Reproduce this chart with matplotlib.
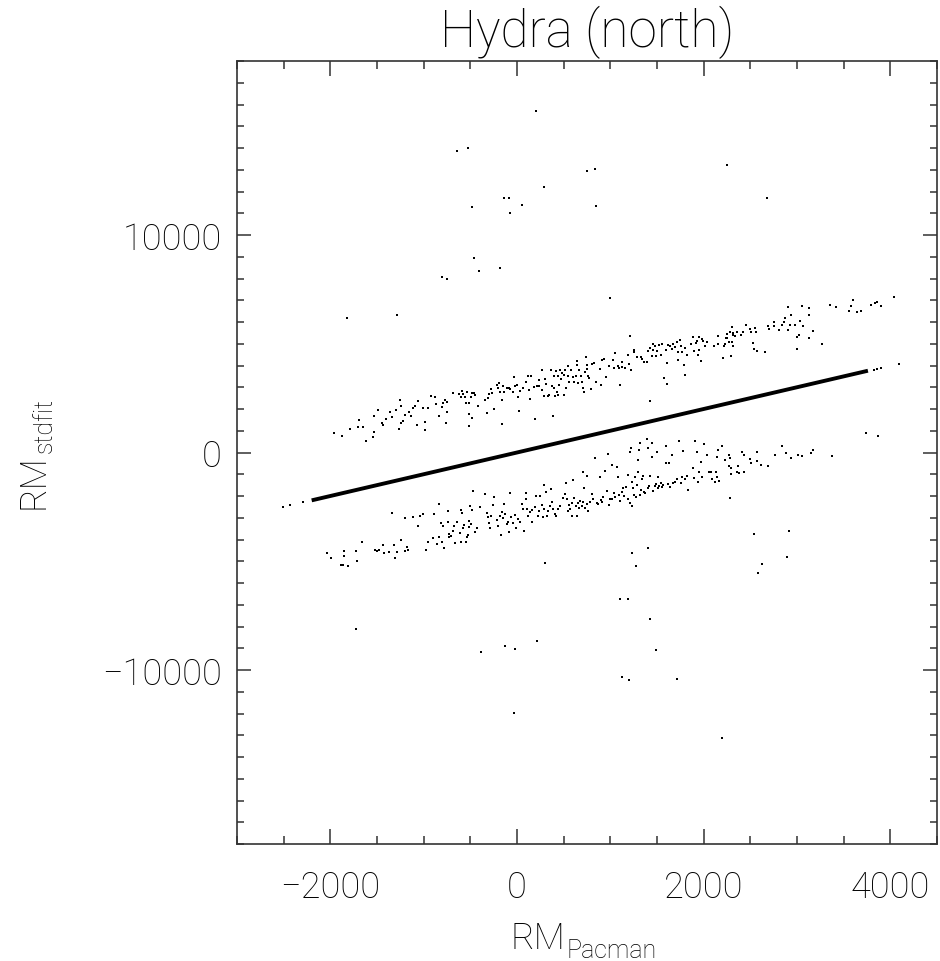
import matplotlib
matplotlib.use("Agg")
import matplotlib.pyplot as plt
from matplotlib.ticker import MultipleLocator

plt.rcParams["font.family"] = ["Roboto", "DejaVu Sans"]
plt.rcParams["font.weight"] = "light"
plt.rcParams["axes.titleweight"] = "light"
plt.rcParams["axes.labelweight"] = "light"

# RM_Pacman vs RM_stdfit
# the dense run of sources with identical RM (drawn as a thick line)
line_x = [-2200, 3760]
line_y = [-2200, 3760]

# isolated points near the ends of that run
line_pts = [(-2503, -2503), (-2432, -2434), (-2297, -2297),
            (3828, 3807), (3853, 3838), (3903, 3884), (4089, 4068)]

# upper band
upper = [
    (-1961, 879), (-1871, 756), (-1786, 1063), (-1704, 1186), (-1693, 1477),
    (-1650, 1155), (-1618, 526), (-1539, 695), (-1529, 925), (-1529, 1661),
    (-1486, 1937), (-1443, 1354), (-1439, 1278), (-1400, 1538), (-1357, 1845),
    (-1343, 1646), (-1300, 1937), (-1268, 1078), (-1254, 2428), (-1246, 1354),
    (-1239, 2136), (-1218, 1462), (-1204, 1722), (-1154, 1860), (-1136, 1661),
    (-1118, 2044), (-1093, 2121), (-1068, 1278), (-1057, 2366), (-1007, 2029),
    (-986, 1385), (-982, 1032), (-950, 2044), (-918, 2581), (-875, 2535),
    (-871, 2244), (-832, 1692), (-800, 2075), (-797, 2259), (-768, 2397),
    (-761, 1339), (-746, 2335), (-746, 1845), (-689, 2734), (-622, 2703),
    (-600, 2565), (-586, 2811), (-582, 2703), (-554, 2550), (-543, 2274),
    (-536, 2780), (-518, 1753), (-518, 1201), (-511, 2259), (-493, 2550),
    (-482, 1584), (-479, 2719), (-464, 2734), (-454, 2642), (-418, 2152),
    (-343, 2412), (-325, 1814), (-314, 2520), (-300, 2673), (-275, 2918),
    (-264, 2734), (-250, 2014), (-211, 3087), (-204, 2979), (-193, 3194),
    (-182, 2795), (-161, 2397), (-161, 1293), (-150, 3071), (-139, 2795),
    (-111, 2949), (-86, 2979), (-72, 2918), (-36, 3454), (-43, 2765),
    (-22, 3071), (3, 3117), (14, 2565), (25, 1891), (35, 2841),
    (67, 2964), (92, 3255), (121, 3500), (128, 2872), (142, 2458),
    (150, 3500), (178, 3025), (189, 1538), (210, 3071), (239, 3347),
    (239, 3071), (264, 3792), (271, 2887), (289, 2611), (303, 3378),
    (314, 3148), (328, 2581), (346, 2642), (364, 3807), (371, 3040),
    (389, 1661), (392, 3500), (400, 2949), (410, 2581), (417, 3746),
    (428, 2765), (435, 3500), (442, 2642), (450, 3102), (460, 3792),
    (471, 3378), (485, 3654), (499, 3577), (507, 2642), (514, 3807),
    (525, 2979), (542, 3500), (549, 3991), (560, 3225), (578, 3792),
    (596, 3454), (614, 3255), (628, 3500), (639, 4221), (646, 4022),
    (657, 3194), (667, 3777), (682, 3500), (700, 3225), (710, 2964),
    (717, 2765), (728, 3715), (739, 4405), (746, 4022), (753, 3838),
    (764, 3500), (771, 3408), (789, 2918), (807, 4068), (828, 4114),
    (842, 3255), (889, 3838), (896, 3117), (914, 4267), (935, 4298),
    (949, 3454), (985, 3960), (1032, 4267), (1042, 3884), (1049, 4574),
    (1078, 3991), (1096, 3899), (1103, 3117), (1121, 4144), (1128, 3945),
    (1157, 3884), (1185, 4497), (1199, 4068), (1214, 5340), (1217, 3792),
    (1249, 4727), (1256, 4635), (1282, 4374), (1328, 4374), (1342, 4298),
    (1364, 4144), (1389, 4175), (1399, 4650), (1428, 4804), (1428, 2351),
    (1442, 4451), (1453, 4988), (1460, 4712), (1478, 4880), (1485, 4451),
    (1503, 4681), (1521, 4942), (1539, 4497), (1557, 4988), (1578, 3408),
    (1592, 4712), (1603, 3133), (1610, 4114), (1621, 4957), (1639, 4880),
    (1657, 4758), (1671, 4988), (1692, 4834), (1717, 5064), (1721, 4635),
    (1728, 4267), (1746, 5187), (1757, 4880), (1771, 4635), (1792, 4037),
    (1799, 4788), (1799, 3562), (1817, 4482), (1860, 4988), (1889, 5294),
    (1896, 4681), (1914, 5018), (1924, 5141), (1935, 4482), (1949, 5294),
    (1953, 4727), (1971, 4221), (1978, 5217), (1996, 5141), (2014, 4911),
    (2035, 5064), (2107, 4911), (2149, 5371), (2157, 4988),
    (2204, 4344), (2221, 4911), (2229, 4988), (2236, 5248), (2254, 5248),
    (2254, 5447), (2275, 5095), (2282, 5555), (2293, 4420), (2300, 5095),
    (2307, 5754), (2311, 5493), (2318, 4880), (2318, 5401), (2332, 5340),
    (2354, 5555), (2396, 5401), (2425, 5555), (2454, 5861), (2496, 5677),
    (2504, 5555), (2532, 5034), (2539, 4758), (2550, 5708), (2557, 5555),
    (2575, 4681), (2657, 4604), (2693, 5800), (2700, 5677), (2754, 5984),
    (2757, 5800), (2811, 5647), (2836, 5861), (2861, 5984), (2871, 6168),
    (2903, 5647), (2907, 6704), (2925, 5861), (2932, 6337), (2978, 5861),
    (2996, 5325), (3003, 4758), (3021, 5417), (3032, 6030), (3057, 6720),
    (3068, 5800), (3132, 6643), (3132, 6321), (3128, 5264), (3168, 5570),
    (3271, 4972), (3353, 6781), (3418, 6674), (3553, 6505), (3575, 6720),
    (3596, 7011), (3639, 6474), (3689, 6520), (3789, 6796), (3836, 6873),
    (3853, 6934), (3903, 6750), (4035, 7134),
]

# lower band
lower = [
    (-2039, -4624), (-1993, -4854), (-1889, -5160), (-1868, -5160), (-1853, -4516),
    (-1850, -4777), (-1807, -5206), (-1725, -4547), (-1711, -5007), (-1661, -4133),
    (-1525, -4470), (-1503, -4547), (-1475, -4470), (-1439, -4256), (-1421, -4639),
    (-1368, -4578), (-1336, -2799), (-1318, -4271), (-1311, -4869), (-1289, -4562),
    (-1243, -4041), (-1203, -3014), (-1196, -4516), (-1175, -4348), (-1168, -4470),
    (-1111, -2968), (-1057, -3397), (-1039, -2937), (-1007, -2830), (-978, -4470),
    (-957, -4133), (-900, -3949), (-889, -2845), (-861, -4210), (-839, -2386),
    (-832, -3903), (-818, -3244), (-800, -4102), (-797, -3367), (-782, -4378),
    (-743, -2707), (-736, -3183), (-732, -3903), (-725, -3750), (-711, -3827),
    (-689, -3597), (-671, -3367), (-661, -4164), (-639, -3183), (-611, -3704),
    (-604, -2646), (-600, -4133), (-586, -2784), (-582, -3459), (-564, -3336),
    (-546, -4133), (-539, -3903), (-521, -3796), (-514, -3137), (-511, -3443),
    (-504, -2478), (-496, -3290), (-482, -2631), (-468, -1757), (-450, -3673),
    (-425, -3489), (-400, -2508), (-339, -1910), (-318, -2784), (-307, -2983),
    (-296, -3244), (-289, -3474), (-275, -2937), (-254, -2416), (-243, -2064),
    (-218, -3091), (-200, -3367), (-182, -2937), (-172, -3796), (-165, -2723),
    (-147, -3029), (-136, -2370), (-129, -2830), (-111, -3290), (-100, -3183),
    (-82, -3643), (-72, -1864), (-65, -2983), (-40, -3244), (-22, -2876),
    (-7, -3489), (14, -3060), (32, -3213), (50, -2370), (68, -2600),
    (78, -3597), (92, -1864), (100, -2140), (110, -2600), (121, -2937),
    (142, -2723), (157, -3183), (164, -2646), (193, -2493), (200, -2018),
    (221, -2907), (239, -2677), (250, -1987), (264, -2416), (282, -2983),
    (285, -1496), (292, -2600), (307, -1803), (317, -2937), (335, -2677),
    (353, -2478), (364, -1680), (371, -2263), (389, -2600), (407, -2830),
    (417, -2937), (442, -2600), (460, -2478), (496, -2094), (514, -1910),
    (525, -1404), (532, -2140), (542, -2677), (557, -2416), (571, -2600),
    (585, -2907), (592, -2324), (603, -1251), (614, -2110), (628, -2478),
    (639, -2937), (650, -2324), (664, -2570), (678, -2217), (692, -2478),
    (707, -883), (710, -2263), (721, -1650), (728, -2570), (746, -1098),
    (746, -2370), (757, -2677), (782, -2263), (800, -1910), (810, -2140),
    (835, -270), (853, -2324), (871, -2370), (892, -1144), (899, -2171),
    (914, -2263), (925, -2064), (942, -837), (964, -1757), (978, -71),
    (985, -2416), (999, -2140), (1014, -2140), (1021, -576), (1035, -1864),
    (1049, -2064), (1071, -684), (1085, -1144), (1092, -1956), (1107, -2217),
    (1121, -1803), (1139, -1650), (1150, -1987), (1167, -1604), (1185, -1036),
    (1192, -2140), (1207, 38), (1214, -2324), (1221, 190), (1228, -1343),
    (1235, -2478), (1246, -1650), (1257, -1956), (1264, -1144), (1271, -2064),
    (1285, -1496), (1292, -331), (1299, -914), (1307, 129), (1314, -1956),
    (1321, 435), (1328, -1711), (1335, -1220), (1353, -1067), (1360, -1803),
    (1371, -1864), (1389, 619), (1400, 190), (1407, -1650), (1414, -1527),
    (1428, -1067), (1442, -224), (1449, 435), (1460, -1757), (1478, -1557),
    (1489, -1450), (1507, -1144), (1500, 36), (1514, -1650), (1525, -1557),
    (1539, -1404), (1550, -1604), (1567, -1496), (1592, 282), (1596, -500),
    (1614, -1450), (1628, -485), (1639, -1604), (1657, -117), (1675, -1404),
    (1692, -1343), (1714, -1220), (1735, 542), (1753, -1404), (1771, -1144),
    (1782, 82), (1800, -1220), (1817, -1098), (1828, -1711), (1882, -730),
    (1900, -1190), (1907, 542), (1928, 6), (1942, -1343), (1950, -914),
    (1971, -454), (1985, -1144), (1999, 389), (2032, -117), (2057, -883),
    (2075, -883), (2086, -1220), (2122, -1343), (2129, -914), (2139, -1144),
    (2139, -224), (2157, 129), (2168, -1297), (2197, 313), (2225, -331),
    (2268, -638), (2272, -117), (2282, -270), (2289, -730), (2289, -990),
    (2354, -883), (2372, -638), (2382, -960), (2414, 36), (2436, -883),
    (2436, -117), (2497, -301), (2511, -500), (2572, 6), (2572, -393),
    (2611, -577), (2689, -638), (2764, -117), (2839, 282), (2886, -40),
    (2939, -270), (3011, -117), (3054, -147), (3154, -40), (3175, 129),
    (3371, -178),
]

# scattered sources away from the bands
outliers = [
    (205, 15681), (-642, 13844), (-527, 13982), (750, 12949), (831, 13018),
    (291, 12191), (2252, 13201), (2677, 11709), (-479, 11296), (-140, 11686),
    (-82, 11686), (-73, 11020), (52, 11388), (850, 11319), (-465, 8954),
    (-403, 8357), (-178, 8472), (-805, 8081), (-747, 7989), (999, 7117),
    (-1819, 6199), (-1283, 6336), (3739, 917), (3868, 780),
    (-1728, -8128), (300, -5075), (2285, -2113), (-384, -9162), (-125, -8909),
    (-20, -9024), (209, -8680), (-35, -11963), (1104, -6728), (1190, -6751),
    (1233, -4639), (1271, -5236), (1400, -4409), (1429, -7669), (1486, -9093),
    (1128, -10333), (1195, -10447), (1716, -10401), (2199, -13111), (2544, -3743),
    (2620, -5121), (2582, -5534), (2917, -3628), (2893, -4799),
]

fig = plt.figure(figsize=(9.4, 9.62), dpi=100)
ax = fig.add_axes([237 / 940, 117 / 962, 700 / 940, 783 / 962])

ax.plot(line_x, line_y, color="k", lw=2.8, solid_capstyle="butt")
for pts in (line_pts, upper, lower, outliers):
    xs, ys = zip(*pts)
    ax.plot(xs, ys, "s", color="k", ms=2.0, mew=0)

ax.set_xlim(-3000, 4500)
ax.set_ylim(-18000, 18000)
ax.xaxis.set_major_locator(MultipleLocator(2000))
ax.xaxis.set_minor_locator(MultipleLocator(500))
ax.yaxis.set_major_locator(MultipleLocator(10000))
ax.yaxis.set_minor_locator(MultipleLocator(1000))
ax.tick_params(which="both", direction="in", top=True, right=True,
               color="#333333", width=1.1, labelsize=26, labelcolor="black")
ax.tick_params(axis="x", which="major", length=11, pad=18)
ax.tick_params(axis="x", which="minor", length=5.5)
ax.tick_params(axis="y", which="major", length=10, pad=11)
ax.tick_params(axis="y", which="minor", length=5)
for s in ax.spines.values():
    s.set_linewidth(1.2)
    s.set_color("#333333")

ax.set_title("Hydra (north)", fontsize=37, pad=11)

# axis labels: "RM" plus a subscript placed next to it
xl = ax.set_xlabel("RM", fontsize=26, color="black")
yl = ax.set_ylabel("RM", fontsize=26, color="black")
ax.xaxis.set_label_coords(0.43, -0.097)
ax.yaxis.set_label_coords(-0.265, 0.464)
ax.annotate("Pacman", xy=(1.0, 0.0), xycoords=xl, xytext=(1, -4),
            textcoords="offset points", ha="left", va="bottom",
            fontsize=18, color="black")
ax.annotate("stdfit", xy=(1.0, 1.0), xycoords=yl, xytext=(4, 1),
            textcoords="offset points", ha="right", va="bottom",
            rotation=90, fontsize=18, color="black")

fig.savefig("out.png", dpi=100)
